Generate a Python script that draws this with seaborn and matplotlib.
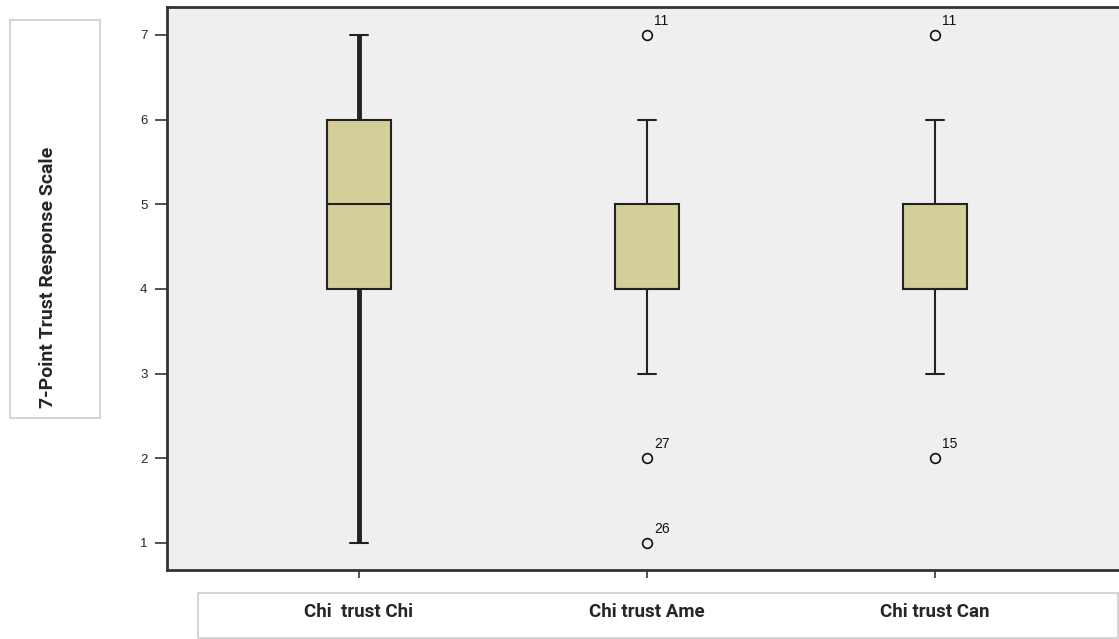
import numpy as np
import pandas as pd
import matplotlib
matplotlib.use("Agg")
import matplotlib.pyplot as plt
from matplotlib.patches import Rectangle
import seaborn as sns

# responses of the 30 cases (case number = position + 1)
groups = ["Chi  trust Chi", "Chi trust Ame", "Chi trust Can"]
chi_trust_chi = [5, 6, 4, 7, 6, 5, 3, 6, 5, 4, 7, 6, 5, 2, 4,
                 6, 5, 3, 7, 6, 5, 4, 6, 1, 5, 3, 2, 6, 4, 7]
chi_trust_ame = [4, 5, 4, 3, 5, 4, 6, 4, 5, 4, 7, 5, 4, 3, 5,
                 4, 6, 5, 4, 5, 4, 3, 5, 4, 6, 1, 2, 5, 4, 5]
chi_trust_can = [4, 5, 5, 4, 3, 4, 5, 4, 6, 4, 7, 4, 5, 4, 2,
                 5, 4, 3, 5, 4, 6, 5, 4, 5, 4, 3, 5, 4, 6, 5]
y_ticks = [1, 2, 3, 4, 5, 6, 7]

cases = np.arange(1, len(chi_trust_chi) + 1)
df = pd.DataFrame({"case": np.tile(cases, 3),
                   "group": np.repeat(groups, len(cases)),
                   "response": chi_trust_chi + chi_trust_ame + chi_trust_can})

sns.set_style("white")
plt.rcParams["font.family"] = ["Liberation Sans", "DejaVu Sans"]

fig = plt.figure(figsize=(11.19, 6.39), dpi=100)
ax = fig.add_axes([167 / 1119, 1 - 570 / 639, 960 / 1119, 563 / 639])
ax.set_facecolor("#efefef")

sns.boxplot(data=df, x="group", y="response", order=groups, ax=ax,
            width=0.22, color="#d4cf98", saturation=1, linecolor="#222222",
            linewidth=1.5, capwidths=0.065,
            flierprops=dict(marker="o", markersize=7, markerfacecolor="none",
                            markeredgecolor="#111111", markeredgewidth=1.2))

# first group's whiskers are drawn heavier
for ln in ax.lines:
    xd = np.asarray(ln.get_xdata(), dtype=float)
    if len(xd) == 2 and np.allclose(xd, 0):
        ln.set_linewidth(3.5)

# label outliers with case numbers
for i, g in enumerate(groups):
    sub = df[df["group"] == g]
    q1, q3 = np.percentile(sub["response"], [25, 75])
    lo, hi = q1 - 1.5 * (q3 - q1), q3 + 1.5 * (q3 - q1)
    out = sub[(sub["response"] < lo) | (sub["response"] > hi)]
    for _, r in out.iterrows():
        ax.annotate(str(r["case"]), (i, r["response"]), xytext=(5, 5),
                    textcoords="offset points", ha="left", va="bottom",
                    fontsize=10, color="#111111")

ax.set_xlim(-0.667, 2.667)
ax.set_ylim(0.68, 7.33)
ax.set_yticks(y_ticks)
ax.tick_params(axis="y", direction="out", length=9, width=1.2, color="#333333",
               labelsize=9.5, pad=5, left=True)
ax.tick_params(axis="x", direction="out", length=6, width=1.2, color="#333333",
               labelsize=13.5, pad=18, bottom=True)
for lab in ax.get_xticklabels():
    lab.set_fontweight("bold")
    lab.set_family(["Roboto", "DejaVu Sans"])
ax.set_xlabel("")
ax.set_ylabel("7-Point Trust Response Scale", fontsize=14, fontweight="bold",
              family=["Roboto", "DejaVu Sans"])
ax.yaxis.set_label_coords(-0.115, 0.52)

for side in ["left", "bottom", "top"]:
    ax.spines[side].set_color("#333333")
    ax.spines[side].set_linewidth(2)
ax.spines["right"].set_visible(False)

# boxes around axis titles
fig.patches.append(Rectangle((10 / 1119, 1 - 418 / 639), 90 / 1119, 398 / 639,
                             transform=fig.transFigure, fill=False,
                             edgecolor="#cccccc", linewidth=1.2))
fig.patches.append(Rectangle((198 / 1119, 1 - 638 / 639), 920 / 1119, 45 / 639,
                             transform=fig.transFigure, fill=False,
                             edgecolor="#cccccc", linewidth=1.2))

fig.savefig("out.png", dpi=100)
